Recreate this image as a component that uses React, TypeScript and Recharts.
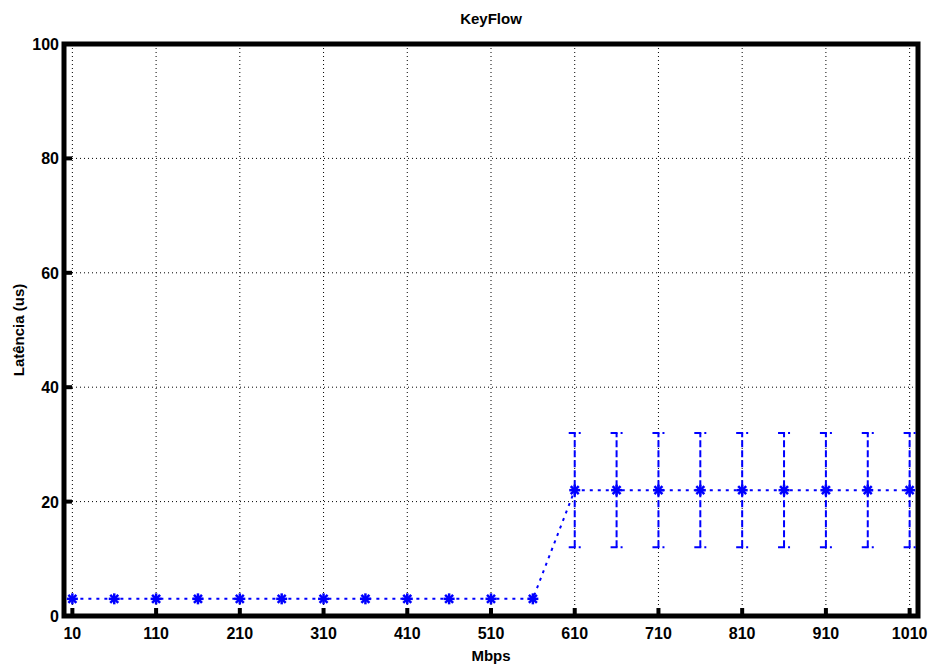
import {
  ComposedChart,
  Line,
  XAxis,
  YAxis,
  CartesianGrid,
  ErrorBar,
  ReferenceArea,
} from "recharts";

const mbps = [10, 60, 110, 160, 210, 260, 310, 360, 410, 460, 510, 560, 610, 660, 710, 760, 810, 860, 910, 960, 1010];
const latency = [3, 3, 3, 3, 3, 3, 3, 3, 3, 3, 3, 3, 22, 22, 22, 22, 22, 22, 22, 22, 22];
const latencyErr = [0, 0, 0, 0, 0, 0, 0, 0, 0, 0, 0, 0, 10, 10, 10, 10, 10, 10, 10, 10, 10];
const xTicks = [10, 110, 210, 310, 410, 510, 610, 710, 810, 910, 1010];
const yTicks = [0, 20, 40, 60, 80, 100];

const FONT = "'Liberation Sans', Arial, Helvetica, sans-serif";
const BLUE = "#0000ff";

const data = mbps.map((m, i) => ({ mbps: m, lat: latency[i], err: latencyErr[i] || undefined }));

const BottomTick = ({ x, y, payload }: any) => (
  <g>
    <rect x={x - 2} y={y - 8} width={4} height={8} fill="#000" />
    <text x={x} y={y + 23} textAnchor="middle" fontFamily={FONT} fontWeight="bold" fontSize={16} fill="#000">
      {payload.value}
    </text>
  </g>
);

const TopTick = ({ x, y }: any) => <rect x={x - 2} y={y} width={4} height={8} fill="#000" />;

const LeftTick = ({ x, y, payload }: any) => (
  <g>
    <rect x={x} y={y - 2} width={8} height={4} fill="#000" />
    <text x={x - 5} y={y + 6} textAnchor="end" fontFamily={FONT} fontWeight="bold" fontSize={16} fill="#000">
      {payload.value}
    </text>
  </g>
);

const RightTick = ({ x, y }: any) => <rect x={x - 8} y={y - 2} width={8} height={4} fill="#000" />;

const Asterisk = (props: any) => {
  const { cx, cy } = props;
  if (cx == null || cy == null) return null;
  const r = 5.5;
  const d = 4;
  return (
    <g stroke={BLUE} strokeWidth={2.5} key={props.key}>
      <line x1={cx - r} y1={cy} x2={cx + r} y2={cy} />
      <line x1={cx} y1={cy - r} x2={cx} y2={cy + r} />
      <line x1={cx - d} y1={cy - d} x2={cx + d} y2={cy + d} />
      <line x1={cx - d} y1={cy + d} x2={cx + d} y2={cy - d} />
    </g>
  );
};

const YLabel = (props: any) => {
  const vb = props.viewBox || { x: 0, y: 44, width: 64, height: 572 };
  const cx = vb.x + 18;
  const cy = vb.y + vb.height / 2;
  return (
    <text
      x={cx}
      y={cy}
      transform={`rotate(-90, ${cx}, ${cy})`}
      textAnchor="middle"
      dominantBaseline="central"
      fontFamily={FONT}
      fontWeight="bold"
      fontSize={15}
      fill="#000"
    >
      Latência (us)
    </text>
  );
};

export default function App() {
  return (
    <div style={{ position: "absolute", left: 0, top: 0, width: 931, height: 664, background: "#fff" }}>
      <div
        style={{
          position: "absolute",
          left: 64,
          width: 854,
          top: 11,
          lineHeight: "15px",
          textAlign: "center",
          fontFamily: FONT,
          fontWeight: "bold",
          fontSize: 15,
          color: "#000",
        }}
      >
        KeyFlow
      </div>
      <ComposedChart width={931} height={664} data={data} margin={{ top: 44, right: 13, bottom: 0, left: 0 }}>
        <CartesianGrid stroke="#000" strokeDasharray="1 3" strokeWidth={1} />
        <XAxis
          dataKey="mbps"
          type="number"
          domain={[0, 1020]}
          ticks={xTicks}
          allowDataOverflow
          height={48}
          axisLine={false}
          tickLine={false}
          tickSize={0}
          tickMargin={0}
          tick={<BottomTick />}
          interval={0}
          label={{ value: "Mbps", position: "insideBottom", offset: 3, fontFamily: FONT, fontWeight: "bold", fontSize: 15, fill: "#000" }}
        />
        <XAxis
          xAxisId="top"
          dataKey="mbps"
          type="number"
          orientation="top"
          domain={[0, 1020]}
          ticks={xTicks}
          allowDataOverflow
          height={0}
          axisLine={false}
          tickLine={false}
          tickSize={0}
          tickMargin={0}
          tick={<TopTick />}
          interval={0}
        />
        <YAxis
          type="number"
          domain={[0, 100]}
          ticks={yTicks}
          allowDataOverflow
          width={64}
          axisLine={false}
          tickLine={false}
          tickSize={0}
          tickMargin={0}
          tick={<LeftTick />}
          interval={0}
          label={{ content: <YLabel /> }}
        />
        <YAxis
          yAxisId="right"
          orientation="right"
          type="number"
          domain={[0, 100]}
          ticks={yTicks}
          allowDataOverflow
          width={0}
          axisLine={false}
          tickLine={false}
          tickSize={0}
          tickMargin={0}
          tick={<RightTick />}
          interval={0}
        />
        <Line
          dataKey="lat"
          type="linear"
          stroke={BLUE}
          strokeWidth={2}
          strokeDasharray="3 5"
          dot={<Asterisk />}
          activeDot={false}
          isAnimationActive={false}
        >
          <ErrorBar
            dataKey="err"
            direction="y"
            width={6}
            stroke={BLUE}
            strokeWidth={2}
            strokeDasharray="7 3"
            isAnimationActive={false}
          />
        </Line>
        <ReferenceArea x1={0} x2={1020} y1={0} y2={100} fill="none" fillOpacity={0} stroke="#000" strokeWidth={5} ifOverflow="visible" />
      </ComposedChart>
    </div>
  );
}
